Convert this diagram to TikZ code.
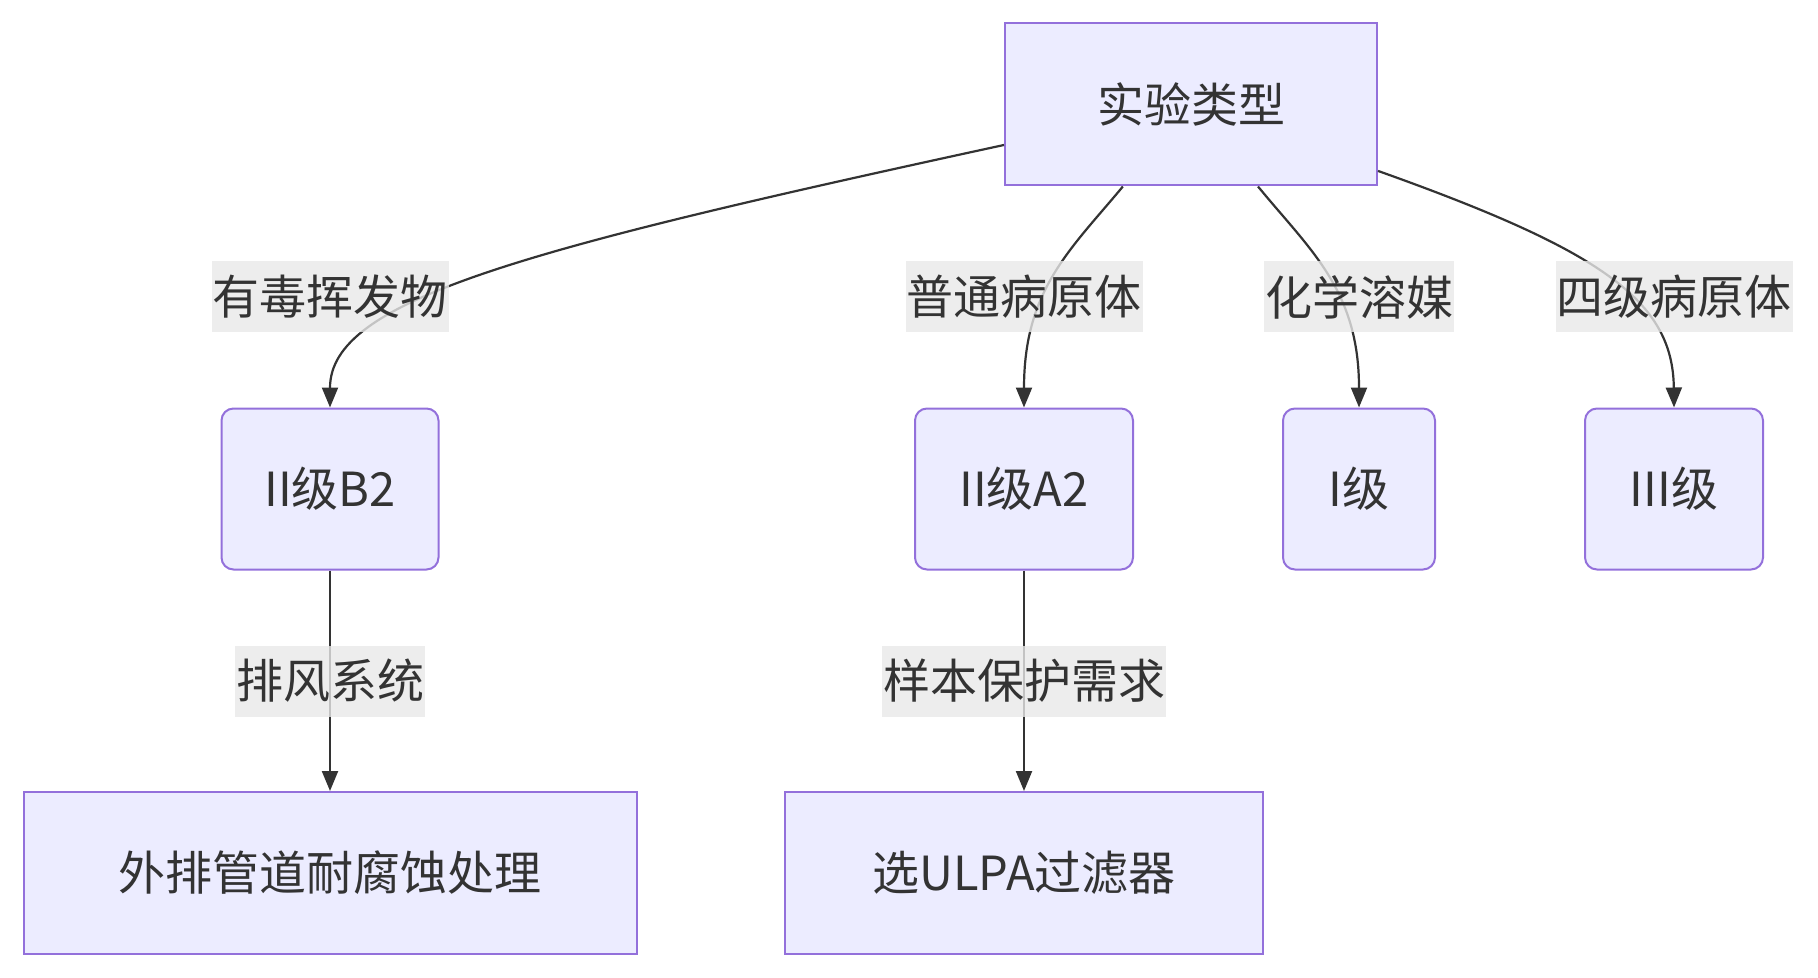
\documentclass[tikz,border=0pt]{standalone}
\usepackage{fontspec}
\setmainfont{Noto Sans CJK SC}
\usetikzlibrary{arrows.meta}
\definecolor{boxfill}{HTML}{ECECFF}
\definecolor{boxline}{HTML}{9370DB}
\definecolor{ink}{HTML}{333333}
\definecolor{tagfill}{HTML}{E8E8E8}

\begin{document}
\begin{tikzpicture}[x=0.5pt,y=-0.5pt,
  font=\fontsize{23.5pt}{28pt}\selectfont, text=ink,
  box/.style={draw=boxline,fill=boxfill,line width=1pt,minimum height=81pt,inner sep=0pt},
  rbox/.style={box,rounded corners=6pt,minimum height=80.5pt},
  tag/.style={fill=tagfill,fill opacity=0.8,text opacity=1,minimum height=35.5pt,inner xsep=0.5pt,inner ysep=0pt},
  link/.style={draw=ink,line width=1.1pt,-{Triangle[length=10pt,width=8pt]}}]
\useasboundingbox (0,0) rectangle (1818,978);
% nodes
\node[box,minimum width=186pt] (type) at (1191,104.5) {实验类型};
\node[rbox,minimum width=108.5pt] (b2) at (330,489) {II级B2};
\node[rbox,minimum width=109pt] (a2) at (1024,489) {II级A2};
\node[rbox,minimum width=76pt] (one) at (1359,489) {I级};
\node[rbox,minimum width=89pt] (three) at (1674,489) {III级};
\node[box,minimum width=306.5pt] (pipe) at (330,873) {外排管道耐腐蚀处理};
\node[box,minimum width=239pt] (ulpa) at (1024,873) {选ULPA过滤器};
% connectors
\draw[link] (type) .. controls (520,250) and (330,300) .. (b2.north);
\draw[link] (type) .. controls (1070,250) and (1024,290) .. (a2.north);
\draw[link] (type) .. controls (1310,250) and (1359,290) .. (one.north);
\draw[link] (type) .. controls (1600,250) and (1673,300) .. (three.north);
\draw[link] (b2) -- (pipe);
\draw[link] (a2) -- (ulpa);
% labels
\node[tag] (t1) at (330,297) {有毒挥发物};
\node[tag] (t2) at (1024,297) {普通病原体};
\node[tag] (t3) at (1359,297) {化学溶媒};
\node[tag] (t4) at (1674,297) {四级病原体};
\node[tag] (t5) at (330,681) {排风系统};
\node[tag] (t6) at (1024,681) {样本保护需求};
\end{tikzpicture}
\end{document}
